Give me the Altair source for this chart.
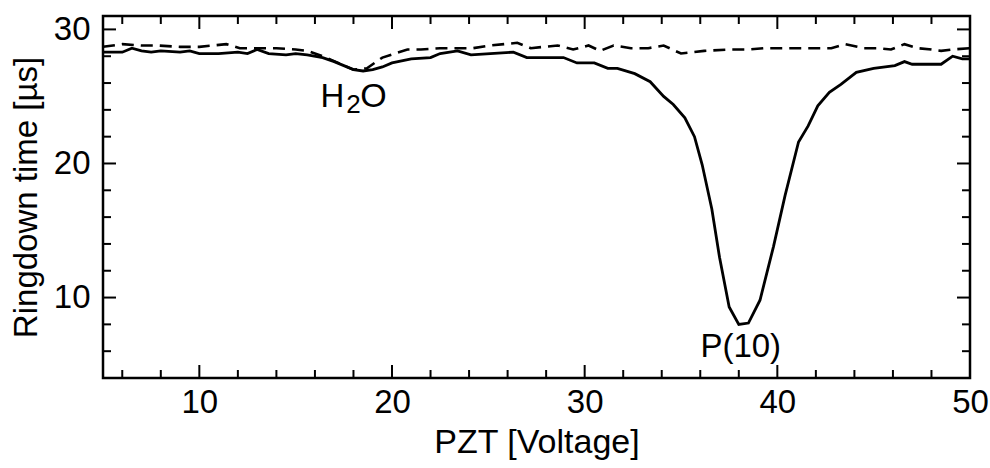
import altair as alt
import pandas as pd

# Solid trace (with sample)
solid_x = [5.0, 5.5, 6.0, 6.5, 7.0, 7.5, 8.0, 9.0, 9.5, 10.0, 11.0, 12.0, 12.5, 13.0, 13.6,
           14.5, 15.0, 15.6, 16.4, 17.0, 17.5, 18.0, 18.5, 19.0, 19.5, 20.0, 21.0, 22.0,
           22.5, 23.4, 24.1, 25.1, 26.3, 27.0, 28.0, 28.9, 29.6, 30.5, 31.2, 31.7, 32.6,
           33.4, 34.1, 34.6, 35.2, 35.7, 36.1, 36.6, 37.0, 37.5, 38.0, 38.5, 39.1, 39.8,
           40.4, 41.1, 41.6, 42.1, 42.7, 43.3, 44.1, 45.0, 46.1, 46.6, 47.0, 48.5, 49.1,
           49.6, 50.0]
solid_y = [28.3, 28.3, 28.3, 28.6, 28.4, 28.3, 28.4, 28.3, 28.4, 28.2, 28.2, 28.3, 28.2,
           28.5, 28.2, 28.1, 28.2, 28.1, 27.9, 27.6, 27.3, 27.0, 26.9, 27.0, 27.2, 27.5,
           27.8, 27.9, 28.2, 28.4, 28.1, 28.2, 28.3, 27.9, 27.9, 27.9, 27.5, 27.5, 27.1,
           27.1, 26.7, 26.1, 25.0, 24.4, 23.4, 22.0, 19.9, 16.6, 13.0, 9.3, 8.0, 8.1, 9.8,
           13.8, 17.6, 21.6, 22.8, 24.3, 25.3, 25.9, 26.8, 27.1, 27.3, 27.6, 27.4, 27.4,
           28.0, 27.8, 27.8]

# Dashed trace (reference)
dash_x = [5.0, 6.0, 7.0, 7.8, 9.0, 10.0, 11.4, 12.1, 13.0, 14.0, 15.0, 15.6, 16.4, 17.2,
          18.0, 18.7, 19.5, 20.8, 21.5, 22.5, 23.4, 24.2, 25.1, 26.5, 27.2, 28.6, 29.4,
          30.2, 30.8, 31.5, 32.4, 33.3, 34.1, 35.0, 36.2, 37.6, 38.5, 39.3, 40.2, 41.1,
          42.0, 42.8, 43.5, 44.5, 45.2, 45.9, 46.6, 47.3, 48.0, 48.5, 49.1, 50.0]
dash_y = [28.7, 28.9, 28.8, 28.8, 28.7, 28.7, 28.9, 28.6, 28.6, 28.6, 28.5, 28.4, 28.0,
          27.5, 27.0, 27.1, 27.9, 28.5, 28.5, 28.6, 28.6, 28.6, 28.8, 29.0, 28.6, 28.8,
          28.5, 28.8, 28.4, 28.8, 28.6, 28.6, 28.8, 28.2, 28.4, 28.5, 28.5, 28.6, 28.6,
          28.6, 28.6, 28.6, 28.9, 28.6, 28.6, 28.5, 28.9, 28.6, 28.5, 28.4, 28.5, 28.6]

# Annotations: H2O label (parts) and P(10)
h2o_x, h2o_y = [18.2], [24.2]
p10_text, p10_x, p10_y = ["P(10)"], [38.1], [5.6]

# Axis tick values
x_major = [10, 20, 30, 40, 50]
x_minor = [6, 8, 12, 14, 16, 18, 22, 24, 26, 28, 32, 34, 36, 38, 42, 44, 46, 48]
y_major = [10, 20, 30]
y_minor = [6, 8, 12, 14, 16, 18, 22, 24, 26, 28]

W, H = 867, 362
FONT = "Liberation Sans"
MAJ, MIN = 13, 8

xs = alt.Scale(domain=[5, 50], nice=False, zero=False)
ys = alt.Scale(domain=[4, 31], nice=False, zero=False)

solid_df = pd.DataFrame({"v": solid_x, "t": solid_y})
dash_df = pd.DataFrame({"v": dash_x, "t": dash_y})
h2o_df = pd.DataFrame({"v": h2o_x, "t": h2o_y})
p10_df = pd.DataFrame({"label": p10_text, "v": p10_x, "t": p10_y})

x_axis = alt.Axis(values=x_major, format="d", ticks=False, domain=False, grid=False,
                  labelFlush=False, labelOverlap=False,
                  labelFont=FONT, labelFontSize=33, labelColor="black", labelPadding=8,
                  title="PZT [Voltage]", titleFont=FONT, titleFontSize=34,
                  titleFontWeight="normal", titleColor="black", titlePadding=6)
y_axis = alt.Axis(values=y_major, format="d", ticks=False, domain=False, grid=False,
                  labelFlush=False, labelOverlap=False,
                  labelFont=FONT, labelFontSize=33, labelColor="black", labelPadding=13,
                  title="Ringdown time [µs]", titleFont=FONT, titleFontSize=33,
                  titleFontWeight="normal", titleColor="black", titlePadding=10)

XE = alt.X("v:Q", scale=xs, axis=x_axis)
YE = alt.Y("t:Q", scale=ys, axis=y_axis)

dashed = alt.Chart(dash_df).mark_line(color="black", strokeWidth=2.6,
                                      strokeDash=[12, 7]).encode(x=XE, y=YE)
solid = alt.Chart(solid_df).mark_line(color="black", strokeWidth=2.8).encode(x=XE, y=YE)

p10 = alt.Chart(p10_df).mark_text(font=FONT, fontSize=33, color="black",
                                  baseline="alphabetic", align="center").encode(
    x=XE, y=YE, text="label:N")
h_part = alt.Chart(h2o_df).mark_text(font=FONT, fontSize=33, color="black", text="H",
                                     baseline="alphabetic", align="right", dx=-13).encode(x=XE, y=YE)
two_part = alt.Chart(h2o_df).mark_text(font=FONT, fontSize=26, color="black", text="2",
                                       baseline="alphabetic", align="left", dx=-11, dy=6).encode(x=XE, y=YE)
o_part = alt.Chart(h2o_df).mark_text(font=FONT, fontSize=34, color="black", text="O",
                                     baseline="alphabetic", align="left", dx=3).encode(x=XE, y=YE)


def xticks(vals, length):
    df = pd.DataFrame({"v": vals})
    bottom = alt.Chart(df).mark_rule(color="black", strokeWidth=2).encode(
        x=XE, y=alt.value(H), y2=alt.value(H - length))
    top = alt.Chart(df).mark_rule(color="black", strokeWidth=2).encode(
        x=XE, y=alt.value(0), y2=alt.value(length))
    return [bottom, top]


def yticks(vals, length):
    df = pd.DataFrame({"t": vals})
    left = alt.Chart(df).mark_rule(color="black", strokeWidth=2).encode(
        y=YE, x=alt.value(0), x2=alt.value(length))
    right = alt.Chart(df).mark_rule(color="black", strokeWidth=2).encode(
        y=YE, x=alt.value(W), x2=alt.value(W - length))
    return [left, right]


layers = [dashed, solid, p10, h_part, two_part, o_part] \
    + xticks(x_major, MAJ) + xticks(x_minor, MIN) \
    + yticks(y_major, MAJ) + yticks(y_minor, MIN)

chart = alt.layer(*layers).properties(
    width=W, height=H,
    autosize=alt.AutoSizeParams(type="none"),
    padding={"left": 103, "top": 16, "right": 20, "bottom": 90},
    background="white",
).configure_view(stroke="black", strokeWidth=2.5)

chart.save("out.html", embed_options={"renderer": "svg", "actions": False})
